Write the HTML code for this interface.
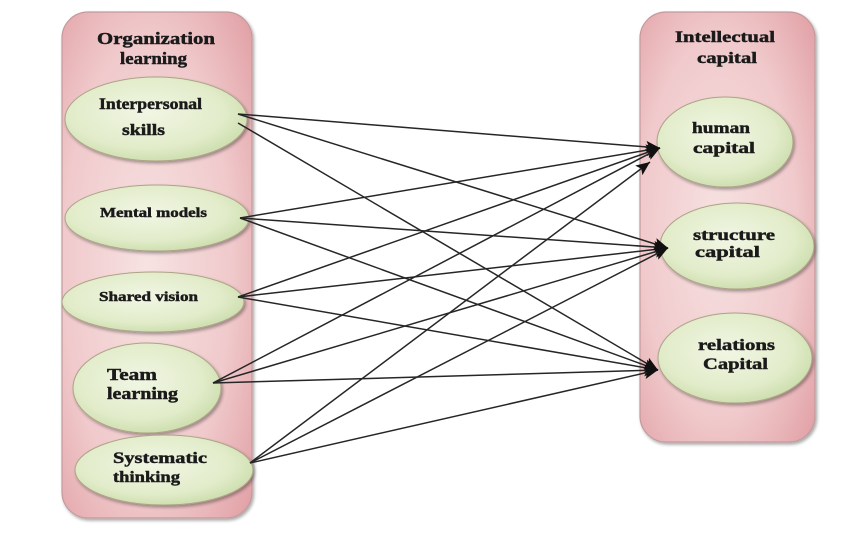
<!DOCTYPE html>
<html>
<head>
<meta charset="utf-8">
<style>
html,body{margin:0;padding:0;background:#fff;}
svg{display:block;}
text{font-family:"Liberation Serif",serif;font-weight:bold;fill:#1a1a1a;stroke:#1a1a1a;stroke-width:0.45px;}
</style>
</head>
<body>
<svg width="843" height="538" viewBox="0 0 843 538" xmlns="http://www.w3.org/2000/svg">
<defs>
  <radialGradient id="pinkL" cx="0.45" cy="0.5" r="0.75">
    <stop offset="0" stop-color="#f7e2e2"/>
    <stop offset="0.6" stop-color="#f0c9cb"/>
    <stop offset="1" stop-color="#e09da2"/>
  </radialGradient>
  <radialGradient id="pinkR" cx="0.45" cy="0.5" r="0.75">
    <stop offset="0" stop-color="#f7e2e2"/>
    <stop offset="0.6" stop-color="#f0c9cb"/>
    <stop offset="1" stop-color="#e09da2"/>
  </radialGradient>
  <radialGradient id="green" cx="0.45" cy="0.42" r="0.6">
    <stop offset="0" stop-color="#f1f6e4"/>
    <stop offset="0.7" stop-color="#e2ecca"/>
    <stop offset="1" stop-color="#cddeae"/>
  </radialGradient>
  <filter id="sh" x="-10%" y="-10%" width="125%" height="125%">
    <feGaussianBlur in="SourceAlpha" stdDeviation="1.5"/>
    <feOffset dx="1.5" dy="2" result="b"/>
    <feComponentTransfer><feFuncA type="linear" slope="0.35"/></feComponentTransfer>
    <feMerge><feMergeNode/><feMergeNode in="SourceGraphic"/></feMerge>
  </filter>
  <marker id="ah" markerUnits="userSpaceOnUse" markerWidth="15" markerHeight="12" refX="14" refY="6" orient="auto">
    <path d="M0,0 L14,6 L0,12 L3,6 z" fill="#111"/>
  </marker>
</defs>

<!-- containers -->
<rect x="62" y="12" width="190" height="506" rx="26" ry="26" fill="url(#pinkL)" stroke="#c29a9c" stroke-width="1.2" filter="url(#sh)"/>
<rect x="640" y="12" width="175" height="430" rx="26" ry="26" fill="url(#pinkR)" stroke="#c29a9c" stroke-width="1.2" filter="url(#sh)"/>

<!-- ellipses -->
<g fill="url(#green)" stroke="#ada486" stroke-width="1" filter="url(#sh)">
  <ellipse cx="156" cy="119" rx="91" ry="42"/>
  <ellipse cx="157" cy="218" rx="92" ry="33"/>
  <ellipse cx="153" cy="302" rx="91" ry="30"/>
  <ellipse cx="147" cy="388" rx="74" ry="45"/>
  <ellipse cx="164" cy="470" rx="89" ry="35"/>
  <ellipse cx="725" cy="142" rx="68" ry="45"/>
  <ellipse cx="737" cy="246" rx="77" ry="43"/>
  <ellipse cx="735" cy="358" rx="77" ry="45"/>
</g>

<!-- connectors -->
<g stroke="#262626" stroke-width="1.5" fill="none" marker-end="url(#ah)">
  <line x1="238" y1="114" x2="660" y2="148"/>
  <line x1="238" y1="114" x2="668" y2="248"/>
  <line x1="238" y1="123" x2="658" y2="370"/>

  <line x1="240" y1="218" x2="660" y2="148"/>
  <line x1="240" y1="218" x2="668" y2="248"/>
  <line x1="240" y1="218" x2="658" y2="370"/>

  <line x1="238" y1="297" x2="660" y2="148"/>
  <line x1="238" y1="297" x2="668" y2="248"/>
  <line x1="238" y1="297" x2="658" y2="370"/>

  <line x1="213" y1="383" x2="660" y2="148"/>
  <line x1="213" y1="383" x2="668" y2="248"/>
  <line x1="213" y1="383" x2="658" y2="370"/>

  <line x1="250" y1="463" x2="650" y2="162"/>
  <line x1="250" y1="463" x2="668" y2="248"/>
  <line x1="250" y1="463" x2="658" y2="370"/>
</g>

<!-- labels -->
<text x="97" y="44" font-size="17" textLength="118" lengthAdjust="spacingAndGlyphs">Organization</text>
<text x="120" y="64" font-size="17" textLength="67" lengthAdjust="spacingAndGlyphs">learning</text>

<text x="99" y="109" font-size="16" textLength="103" lengthAdjust="spacingAndGlyphs">Interpersonal</text>
<text x="122" y="135" font-size="16" textLength="43" lengthAdjust="spacingAndGlyphs">skills</text>

<text x="100" y="217" font-size="14" textLength="107" lengthAdjust="spacingAndGlyphs">Mental models</text>
<text x="99" y="301" font-size="14" textLength="99" lengthAdjust="spacingAndGlyphs">Shared vision</text>

<text x="107" y="380" font-size="17" textLength="50" lengthAdjust="spacingAndGlyphs">Team</text>
<text x="107" y="399" font-size="17" textLength="71" lengthAdjust="spacingAndGlyphs">learning</text>

<text x="113" y="463" font-size="16" textLength="94" lengthAdjust="spacingAndGlyphs">Systematic</text>
<text x="113" y="482" font-size="16" textLength="67" lengthAdjust="spacingAndGlyphs">thinking</text>

<text x="675" y="42" font-size="16" textLength="100" lengthAdjust="spacingAndGlyphs">Intellectual</text>
<text x="697" y="63" font-size="16" textLength="60" lengthAdjust="spacingAndGlyphs">capital</text>

<text x="692" y="133" font-size="16" textLength="58" lengthAdjust="spacingAndGlyphs">human</text>
<text x="693" y="153" font-size="16" textLength="62" lengthAdjust="spacingAndGlyphs">capital</text>

<text x="693" y="240" font-size="16" textLength="82" lengthAdjust="spacingAndGlyphs">structure</text>
<text x="695" y="257" font-size="16" textLength="65" lengthAdjust="spacingAndGlyphs">capital</text>

<text x="698" y="350" font-size="16" textLength="77" lengthAdjust="spacingAndGlyphs">relations</text>
<text x="703" y="369" font-size="16" textLength="65" lengthAdjust="spacingAndGlyphs">Capital</text>
</svg>
</body>
</html>
